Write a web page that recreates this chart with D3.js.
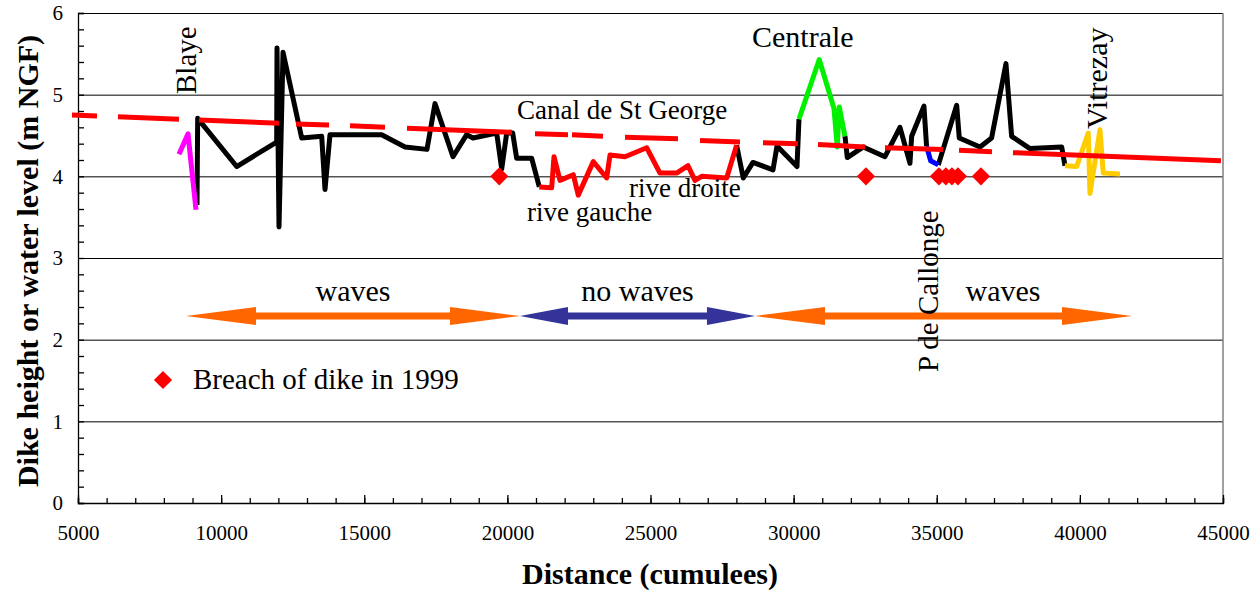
<!DOCTYPE html>
<html>
  <head>
    <meta charset="utf-8" />
    <title>Dike height along the Gironde</title>
    <script src="https://cdnjs.cloudflare.com/ajax/libs/d3/7.8.5/d3.min.js"></script>
    <style>
      body { margin: 0; background: #fff; }
      text { font-family: "Liberation Serif", "Times New Roman", serif; }
    </style>
  </head>
  <body>
    <div id="chart"></div>

    <script>
      // main dike profile (black), null = break where another colour takes over
      const dikeDist = [9157, 9181, 10544, 11941, 11952, 12022, 12162, 12815, 13513, 13629, 13803, 15609, 16423, 17192, 17471, 18100, 18578, 18799, 19627, 19802, 19976, 20186, 20325, 20850, 21115, null,
        28008, 28241, 28580, 29279, 29419, 30118, 30187, null,
        31794, 31875, 32434, 33191, 33715, 34064, 34123, 34553, 34644, null,
        35053, 35696, 35787, 36510, 36916, 37418, 37616, 38257, 39364, 39480];
      const dikeLevel = [3.65, 4.71, 4.12, 4.42, 5.57, 3.38, 5.52, 4.47, 4.49, 3.84, 4.51, 4.51, 4.36, 4.33, 4.89, 4.24, 4.51, 4.47, 4.53, 4.09, 4.53, 4.53, 4.22, 4.22, 3.87, null,
        4.38, 3.98, 4.17, 4.08, 4.37, 4.12, 4.70, null,
        4.49, 4.23, 4.36, 4.24, 4.60, 4.16, 4.49, 4.86, 4.37, null,
        4.14, 4.87, 4.47, 4.36, 4.47, 5.38, 4.49, 4.34, 4.36, 4.13];

      // Blaye
      const blayeDist = [8528, 8843, 9122];
      const blayeLevel = [4.27, 4.52, 3.59];
      // rive gauche / rive droite
      const riveDist = [21115, 21548, 21629, 21838, 22303, 22477, 23001, 23469, 23585, 24109, 24867, 25331, 25914, 26310, 26554, 26788, 27661, 28008];
      const riveLevel = [3.87, 3.86, 4.24, 3.95, 4.02, 3.77, 4.18, 3.98, 4.26, 4.24, 4.35, 4.04, 4.04, 4.13, 3.95, 4.0, 3.98, 4.38];
      // Centrale
      const centraleDist = [30187, 30895, 31410, 31525, 31595, 31794];
      const centraleLevel = [4.70, 5.43, 4.83, 4.36, 4.85, 4.49];
      // P de Callonge
      const callongeDist = [34644, 34787, 35053];
      const callongeLevel = [4.37, 4.19, 4.14];
      // Vitrezay
      const vitrezayDist = [39480, 39888, 40293, 40352, 40701, 40817, 41400];
      const vitrezayLevel = [4.13, 4.12, 4.53, 3.79, 4.57, 4.04, 4.03];

      // water level (dashed red), null = gap between dashes
      const waterDist = [4790, 5664, null, 6397, 8528, null, 9227, 12022, null, 12616, 13769, null, 14502, 15725, null,
        16493, 20161, null, 20965, 22118, null, 22257, 23340, null, 24109, 25960, null, 26729, 28126, null,
        28930, 30153, null, 30851, 32493, null, 33192, 35218, null, 35777, 36930, null, 37663, 44930];
      const waterLevel = [4.75, 4.74, null, 4.73, 4.70, null, 4.69, 4.65, null, 4.64, 4.63, null, 4.62, 4.60, null,
        4.59, 4.54, null, 4.52, 4.51, null, 4.51, 4.49, null, 4.48, 4.46, null, 4.44, 4.42, null,
        4.41, 4.40, null, 4.39, 4.36, null, 4.35, 4.33, null, 4.32, 4.30, null, 4.29, 4.19];

      // breaches of 1999
      const breachDist = [19718, 32527, 35076, 35320, 35530, 35740, 36544];
      const breachLevel = [4, 4, 4, 4, 4, 4, 4];

      // wave zones (double arrows)
      const zoneLabels = ["waves", "no waves", "waves"];
      const zoneStart = [8773, 20440, 28650];
      const zoneEnd = [20440, 28650, 41820];
      const zoneLevel = 2.29;
      const zoneColors = ["#FF6600", "#333399", "#FF6600"];

      const yTicks = [0, 1, 2, 3, 4, 5, 6];
      const xTicks = [5000, 10000, 15000, 20000, 25000, 30000, 35000, 40000, 45000];

      const width = 1260, height = 596;
      const mLeft = 78, mRight = 1223, mTop = 13, mBottom = 503;
      const serif = '"Liberation Serif", "Times New Roman", serif';

      const svg = d3.select("#chart").append("svg")
        .attr("width", width)
        .attr("height", height);

      const x = d3.scaleLinear().domain([5000, 45000]).range([mLeft, mRight]);
      const y = d3.scaleLinear().domain([0, 6]).range([mBottom, mTop]);

      // grid lines
      svg.append("g")
        .attr("transform", `translate(${mLeft},0)`)
        .call(d3.axisLeft(y).tickValues(yTicks.slice(1)).tickSize(-(mRight - mLeft)).tickFormat(""))
        .call((g) => g.select(".domain").remove())
        .call((g) => g.selectAll("line").attr("stroke", "#000").attr("stroke-width", 1));

      // right frame
      svg.append("line")
        .attr("x1", mRight).attr("x2", mRight)
        .attr("y1", mTop).attr("y2", mBottom)
        .attr("stroke", "#808080").attr("stroke-width", 1.5);

      // y axis: minor ticks inside, labels
      svg.append("g")
        .attr("transform", `translate(${mLeft},0)`)
        .call(d3.axisLeft(y).tickValues(d3.range(0, 31).map((i) => i / 5)).tickSize(-6).tickFormat(""))
        .call((g) => g.selectAll("line,path").attr("stroke", "#000").attr("stroke-width", 1.3));
      svg.append("g")
        .attr("transform", `translate(${mLeft},0)`)
        .attr("font-family", serif)
        .call(d3.axisLeft(y).tickValues(yTicks).tickSize(0).tickPadding(15).tickFormat(d3.format("d")))
        .call((g) => g.select(".domain").remove())
        .call((g) => g.selectAll("text")
          .style("font-family", serif)
          .style("font-size", "21px")
          .attr("fill", "#000"));

      // x axis
      svg.append("g")
        .attr("transform", `translate(0,${mBottom})`)
        .call(d3.axisBottom(x).tickValues(d3.range(5000, 45001, 1000)).tickSize(-5).tickFormat(""))
        .call((g) => g.selectAll("line,path").attr("stroke", "#000").attr("stroke-width", 1.3));
      svg.append("g")
        .attr("transform", `translate(0,${mBottom})`)
        .attr("font-family", serif)
        .call(d3.axisBottom(x).tickValues(xTicks).tickSize(-8).tickPadding(22).tickFormat(d3.format("d")))
        .call((g) => g.select(".domain").remove())
        .call((g) => g.selectAll("line").attr("stroke", "#000").attr("stroke-width", 1.3))
        .call((g) => g.selectAll("text")
          .style("font-family", serif)
          .style("font-size", "21px")
          .attr("fill", "#000"));

      // axis titles
      svg.append("text")
        .attr("transform", "translate(38,261) rotate(-90)")
        .attr("text-anchor", "middle")
        .attr("font-size", 30)
        .attr("font-weight", "bold")
        .text("Dike height or water level (m NGF)");
      svg.append("text")
        .attr("x", 650).attr("y", 584)
        .attr("text-anchor", "middle")
        .attr("font-size", 30)
        .attr("font-weight", "bold")
        .text("Distance (cumulees)");

      const line = d3.line()
        .defined((d) => d[1] != null)
        .x((d) => x(d[0]))
        .y((d) => y(d[1]));

      const zip = (a, b) => a.map((v, i) => [v, b[i]]);

      const series = [
        { dist: dikeDist, level: dikeLevel, color: "#000000" },
        { dist: blayeDist, level: blayeLevel, color: "#FF00FF" },
        { dist: riveDist, level: riveLevel, color: "#FF0000" },
        { dist: centraleDist, level: centraleLevel, color: "#00F000" },
        { dist: callongeDist, level: callongeLevel, color: "#0000FF" },
        { dist: vitrezayDist, level: vitrezayLevel, color: "#FFCC00" },
      ];

      svg.append("g")
        .selectAll("path")
        .data(series)
        .join("path")
        .attr("d", (s) => line(zip(s.dist, s.level)))
        .attr("fill", "none")
        .attr("stroke", (s) => s.color)
        .attr("stroke-width", 5)
        .attr("stroke-linejoin", "round");

      // water level
      svg.append("path")
        .attr("d", line(zip(waterDist, waterLevel)))
        .attr("fill", "none")
        .attr("stroke", "#FF0000")
        .attr("stroke-width", 5);

      // breaches
      const diamond = d3.symbol().type(d3.symbolSquare).size(165);
      svg.append("g")
        .selectAll("path")
        .data(zip(breachDist, breachLevel))
        .join("path")
        .attr("transform", (d) => `translate(${x(d[0])},${y(d[1])}) rotate(45)`)
        .attr("d", diamond)
        .attr("fill", "#FF0000");

      // wave zones
      const zones = zoneLabels.map((label, i) => ({
        label,
        x0: x(zoneStart[i]),
        x1: x(zoneEnd[i]),
        color: zoneColors[i],
        head: zoneColors[i] === "#333399" ? 48 : 70,
      }));
      const ay = y(zoneLevel);
      svg.append("g")
        .selectAll("polygon")
        .data(zones)
        .join("polygon")
        .attr("points", (z) => {
          const s = 3.5, h = 9;
          return [
            [z.x0, ay],
            [z.x0 + z.head, ay - h],
            [z.x0 + z.head, ay - s],
            [z.x1 - z.head, ay - s],
            [z.x1 - z.head, ay - h],
            [z.x1, ay],
            [z.x1 - z.head, ay + h],
            [z.x1 - z.head, ay + s],
            [z.x0 + z.head, ay + s],
            [z.x0 + z.head, ay + h],
          ].join(" ");
        })
        .attr("fill", (z) => z.color);

      svg.append("g")
        .selectAll("text")
        .data(zones)
        .join("text")
        .attr("x", (z, i) => (i === 2 ? z.x0 + 248 : (z.x0 + z.x1) / 2))
        .attr("y", 301)
        .attr("text-anchor", "middle")
        .attr("font-size", 30)
        .text((z) => z.label);

      // site labels
      const labels = [
        { text: "Blaye", x: 196, y: 94, rot: true, size: 29 },
        { text: "Vitrezay", x: 1107, y: 129, rot: true, size: 30 },
        { text: "P de Callonge", x: 938, y: 372, rot: true, size: 29 },
        { text: "Centrale", x: 752, y: 47, size: 30 },
        { text: "Canal de St George", x: 517, y: 119, size: 27 },
        { text: "rive gauche", x: 527, y: 221, size: 27 },
        { text: "rive droite", x: 629, y: 197, size: 27 },
      ];
      svg.append("g")
        .selectAll("text")
        .data(labels)
        .join("text")
        .attr("transform", (d) => `translate(${d.x},${d.y})` + (d.rot ? " rotate(-90)" : ""))
        .attr("font-size", (d) => d.size)
        .text((d) => d.text);

      // legend
      svg.append("path")
        .attr("transform", "translate(163,380) rotate(45)")
        .attr("d", diamond)
        .attr("fill", "#FF0000");
      svg.append("text")
        .attr("x", 193).attr("y", 389)
        .attr("font-size", 29)
        .text("Breach of dike in 1999");
    </script>
  </body>
</html>
